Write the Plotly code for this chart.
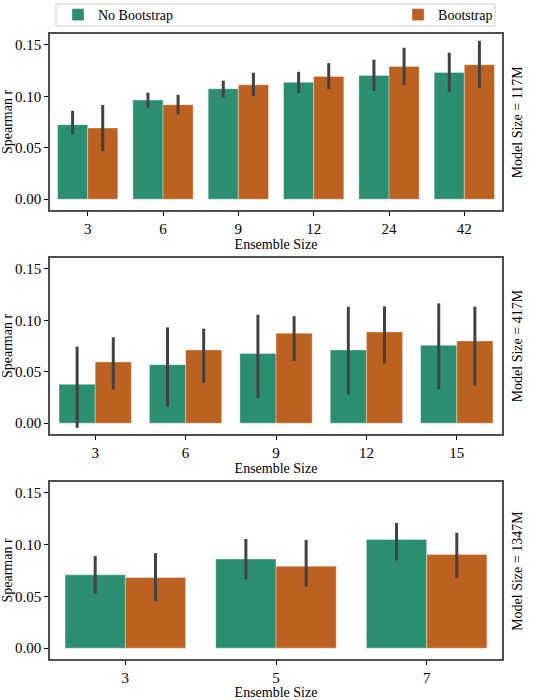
import plotly.graph_objects as go
from plotly.subplots import make_subplots

# data (mean, lower CI, upper CI)
sizes_117 = ["3", "6", "9", "12", "24", "42"]
nb_117 = [0.0724, 0.0963, 0.1073, 0.1135, 0.1203, 0.1232]
nb_117_lo = [0.0630, 0.0889, 0.0989, 0.1031, 0.1051, 0.1044]
nb_117_hi = [0.0860, 0.1035, 0.1151, 0.1238, 0.1355, 0.1423]
bs_117 = [0.0692, 0.0918, 0.1112, 0.1193, 0.1290, 0.1306]
bs_117_lo = [0.0466, 0.0824, 0.1002, 0.1070, 0.1109, 0.1083]
bs_117_hi = [0.0915, 0.1015, 0.1229, 0.1322, 0.1471, 0.1539]

sizes_417 = ["3", "6", "9", "12", "15"]
nb_417 = [0.0378, 0.0569, 0.0676, 0.0711, 0.0757]
nb_417_lo = [-0.0045, 0.0158, 0.0246, 0.0278, 0.0330]
nb_417_hi = [0.0744, 0.0931, 0.1054, 0.1132, 0.1164]
bs_417 = [0.0595, 0.0711, 0.0873, 0.0886, 0.0799]
bs_417_lo = [0.0327, 0.0394, 0.0605, 0.0579, 0.0365]
bs_417_hi = [0.0834, 0.0918, 0.1040, 0.1135, 0.1132]

sizes_1347 = ["3", "5", "7"]
nb_1347 = [0.0708, 0.0860, 0.1050]
nb_1347_lo = [0.0527, 0.0666, 0.0847]
nb_1347_hi = [0.0889, 0.1054, 0.1209]
bs_1347 = [0.0682, 0.0792, 0.0905]
bs_1347_lo = [0.0456, 0.0595, 0.0676]
bs_1347_hi = [0.0918, 0.1044, 0.1115]

row_labels = ["Model Size = 117M", "Model Size = 417M", "Model Size = 1347M"]

green = "#2b8e71"
orange = "#bd6120"
err_col = "#424242"
font = "Liberation Serif, Times New Roman, serif"

panels = [
    (sizes_117, nb_117, nb_117_lo, nb_117_hi, bs_117, bs_117_lo, bs_117_hi),
    (sizes_417, nb_417, nb_417_lo, nb_417_hi, bs_417, bs_417_lo, bs_417_hi),
    (sizes_1347, nb_1347, nb_1347_lo, nb_1347_hi, bs_1347, bs_1347_lo, bs_1347_hi),
]

fig = make_subplots(rows=3, cols=1)


def err(mean, lo, hi):
    return dict(type="data", symmetric=False,
                array=[h - m for m, h in zip(mean, hi)],
                arrayminus=[m - l for m, l in zip(mean, lo)],
                color=err_col, thickness=3, width=0)


for i, (x, nb, nb_lo, nb_hi, bs, bs_lo, bs_hi) in enumerate(panels):
    r = i + 1
    fig.add_trace(go.Bar(x=x, y=nb, name="No Bootstrap", marker_color=green,
                         marker_line=dict(color="rgba(255,255,255,0.35)", width=1),
                         error_y=err(nb, nb_lo, nb_hi), offsetgroup="nb",
                         legend="legend", showlegend=(i == 0)), row=r, col=1)
    fig.add_trace(go.Bar(x=x, y=bs, name="Bootstrap", marker_color=orange,
                         marker_line=dict(color="rgba(255,255,255,0.35)", width=1),
                         error_y=err(bs, bs_lo, bs_hi), offsetgroup="bs",
                         legend="legend2", showlegend=(i == 0)), row=r, col=1)

domains = [[0.7184, 1.0], [0.36, 0.6416], [0.0, 0.2832]]
for i in range(3):
    r = i + 1
    fig.update_yaxes(domain=domains[i], range=[-0.0105, 0.1605],
                     tickvals=[0, 0.05, 0.1, 0.15], tickformat=".2f",
                     ticks="outside", ticklen=4, tickcolor="black",
                     tickfont=dict(size=15),
                     showgrid=False, zeroline=False,
                     showline=True, mirror=True, linecolor="#505050", linewidth=1.5,
                     title=dict(text="Spearman r", standoff=3, font=dict(size=14)),
                     row=r, col=1)
    fig.update_xaxes(type="category", ticks="outside", ticklen=4, tickcolor="black",
                     tickfont=dict(size=15),
                     showgrid=False, showline=True, mirror=True,
                     linecolor="#505050", linewidth=1.5,
                     title=dict(text="Ensemble Size", standoff=3, font=dict(size=14)),
                     row=r, col=1)
    d = domains[i]
    fig.add_annotation(text=row_labels[i], xref="paper", yref="paper",
                       x=1.034, y=(d[0] + d[1]) / 2, textangle=-90,
                       showarrow=False, xanchor="center", yanchor="middle",
                       font=dict(size=14))

# frame around both legend entries
fig.add_shape(type="rect", xref="paper", yref="paper",
              x0=0.0133, x1=0.9845, y0=1.0128, y1=1.048,
              line=dict(color="#d0d0d0", width=1), fillcolor="white")

leg = dict(orientation="h", xanchor="left", yref="container", y=1 - 15 / 700,
           yanchor="middle", bgcolor="rgba(0,0,0,0)", borderwidth=0,
           font=dict(size=14))
fig.update_layout(
    width=550, height=700,
    margin=dict(l=50, r=48, t=34, b=41, autoexpand=False),
    barmode="group", bargap=0.2, bargroupgap=0,
    plot_bgcolor="white", paper_bgcolor="white",
    font=dict(family=font, size=14, color="black"),
    legend=dict(leg, x=0.0177),
    legend2=dict(leg, x=0.77),
)

# drop the default page margin so the figure sits at the window's corner
fig.write_html("out.html", config={"displayModeBar": False},
               post_script="document.body.style.margin='0';")
